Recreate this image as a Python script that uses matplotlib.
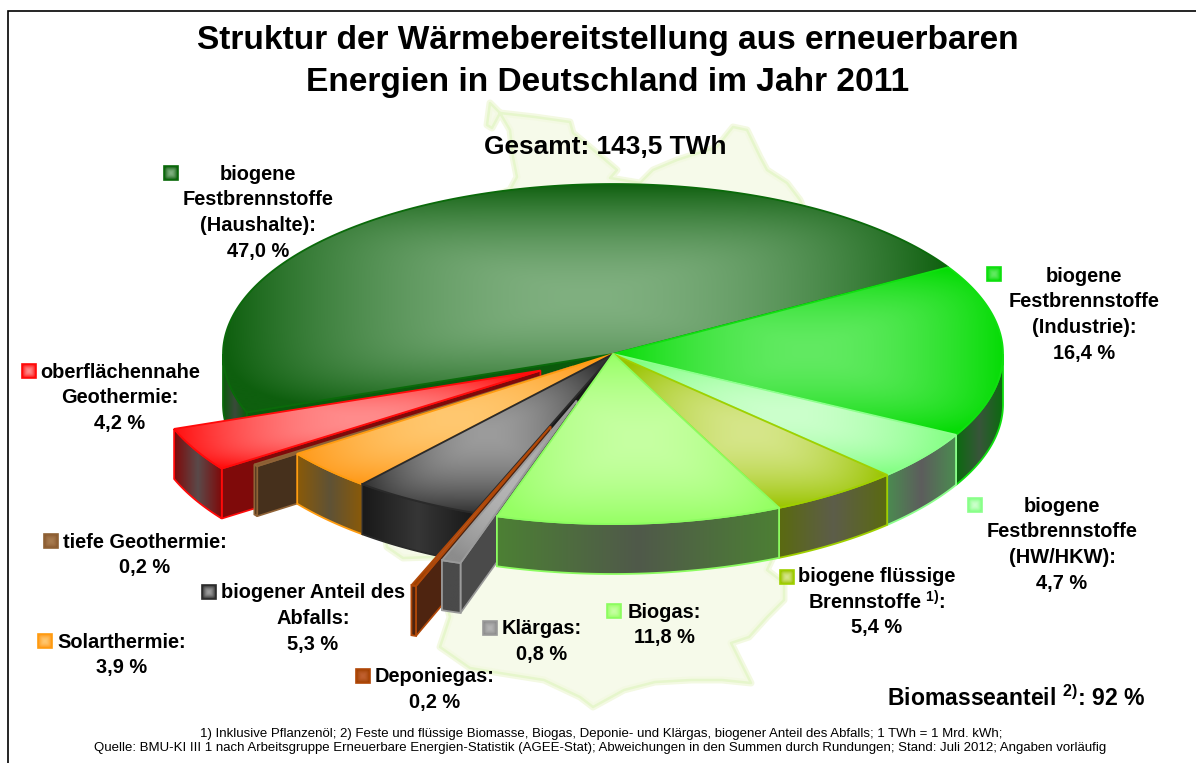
import numpy as np
import matplotlib
matplotlib.use("Agg")
import matplotlib.pyplot as plt
from matplotlib.patches import Polygon, Rectangle
from matplotlib.colors import to_rgb

plt.rcParams['font.family'] = ['Liberation Sans', 'DejaVu Sans']
plt.rcParams['mathtext.fontset'] = 'custom'
plt.rcParams['mathtext.bf'] = 'Liberation Sans:bold'
plt.rcParams['mathtext.rm'] = 'Liberation Sans:bold'

# ---- data ----
names = ['Haushalte', 'Geothermie_o', 'Geothermie_t', 'Solar', 'Abfall',
         'Deponie', 'Klaer', 'Biogas', 'Fluessig', 'HW', 'Industrie']
shares = [47.0, 4.2, 0.2, 3.9, 5.3, 0.2, 0.8, 11.8, 5.4, 4.7, 16.4]
explode = [0, 0.21, 0.126, 0, 0, 0.455, 0.29, 0, 0, 0, 0]
base_col = ['#0e5f0e', '#ff1010', '#8a5a30', '#ff9a1a', '#333333', '#a04000',
            '#8c8c8c', '#96ff64', '#9ac400', '#80ff80', '#06dc06']
light_col = ['#80b080', '#ff8c8c', '#a87c50', '#ffc870', '#9c9c9c', '#c06030',
             '#b4b4b4', '#c6ffa2', '#d6e68a', '#ccffcc', '#62ea62']
edge_col = ['#0a6a0a', '#ff0a0a', '#8f6236', '#ff9c10', '#2a2a2a', '#b04808',
            '#9a9a9a', '#8cfc60', '#a0d000', '#8cff8c', '#10e010']
wall_end = ['#0b5a0b', '#7f0a0a', '#46301c', '#8a5a08', '#191919', '#4e2410',
            '#4a4a4a', '#4c8034', '#5a6a10', '#4b8b50', '#0c6a10']
wall_mid = ['#3a4a3a', '#5a4a4a', '#46301c', '#5f5236', '#363636', '#4e2410',
            '#4a4a4a', '#50594a', '#5d5d4a', '#5d5d5d', '#38553a']

labels = [
    ('biogene\nFestbrennstoffe\n(Haushalte):\n47,0 %', 258, 173, 171, 173, 0),
    ('oberflächennahe\nGeothermie:\n4,2 %', 120, 371, 29, 371, 1),
    ('tiefe Geothermie:\n0,2 %', 145, 541, 51, 541, 2),
    ('Solarthermie:\n3,9 %', 122, 641, 45, 641, 3),
    ('biogener Anteil des\nAbfalls:\n5,3 %', 313, 592, 209, 592, 4),
    ('Deponiegas:\n0,2 %', 435, 676, 363, 676, 5),
    ('Klärgas:\n0,8 %', 542, 628, 490, 628, 6),
    ('Biogas:\n11,8 %', 664, 611, 614, 611, 7),
    ('biogene flüssige\nBrennstoffe $^{\\mathbf{1)}}$:\n5,4 %', 877, 575, 787, 577, 8),
    ('biogene\nFestbrennstoffe\n(HW/HKW):\n4,7 %', 1062, 505, 975, 505, 9),
    ('biogene\nFestbrennstoffe\n(Industrie):\n16,4 %', 1084, 275, 994, 274, 10),
]
title_lines = ['Struktur der Wärmebereitstellung aus erneuerbaren',
               'Energien in Deutschland im Jahr 2011']
total_text = 'Gesamt: 143,5 TWh'
biomass_text = 'Biomasseanteil $^{\\mathbf{2)}}$: 92 %'
foot_lines = ['1) Inklusive Pflanzenöl; 2) Feste und flüssige Biomasse, Biogas, Deponie- und Klärgas, biogener Anteil des Abfalls; 1 TWh = 1 Mrd. kWh;',
              'Quelle: BMU-KI III 1 nach Arbeitsgruppe Erneuerbare Energien-Statistik (AGEE-Stat); Abweichungen in den Summen durch Rundungen; Stand: Juli 2012; Angaben vorläufig']

# decorative background map outline
map_x = [490, 487, 492, 500, 535, 570, 573, 597, 617, 610, 640, 653, 677, 717, 733, 747, 760, 767, 787, 800,
         840, 850, 800, 767, 784, 784, 767, 749, 731, 751, 722, 691, 655, 624, 593, 580, 544, 500, 470, 440,
         450, 433, 403, 387, 380, 400, 480, 510, 517, 513, 510, 500]
map_y = [103, 125, 128, 113, 117, 122, 133, 153, 170, 178, 183, 170, 160, 147, 127, 130, 157, 170, 183, 200,
         300, 400, 500, 570, 583, 600, 617, 637, 643, 683, 680, 680, 682, 690, 707, 697, 680, 673, 668, 647,
         617, 557, 558, 547, 500, 300, 200, 190, 177, 157, 130, 113]

# ---- geometry ----
CX, CY, RX, RY, DEPTH = 613, 354, 390, 170, 50
START = 30.7

fig = plt.figure(figsize=(11.96, 7.63), dpi=100)
ax = fig.add_axes([0, 0, 1, 1])
ax.set_xlim(0, 1196)
ax.set_ylim(763, 0)
ax.axis('off')

ax.plot([7.5, 7.5, 1196], [763, 10.5, 10.5], color='black', lw=1.2, zorder=0,
        solid_joinstyle='miter')

# map
pts = np.column_stack([map_x, map_y])
ax.add_patch(Polygon(pts, closed=True, fc='#f6faea', ec='none', zorder=1))
ax.add_patch(Polygon(pts, closed=True, fill=False, ec='#f3f9e2', lw=5, joinstyle='round', zorder=1))
ax.add_patch(Polygon(pts, closed=True, fill=False, ec='#e6f6cc', lw=1.8, joinstyle='round', zorder=1))

angles = np.array(shares) / sum(shares) * 360
ends = START + np.cumsum(angles)
starts = ends - angles
mids = (starts + ends) / 2


def pt(a, ox=0.0, oy=0.0):
    a = np.radians(a)
    return ox + CX + RX * np.cos(a), oy + CY - RY * np.sin(a)


def gradient_fill(patch, c_light, c_base, z, horizontal=False):
    ax.add_patch(patch)
    v = patch.get_path().transformed(patch.get_patch_transform()).vertices
    x0, x1, y0, y1 = v[:, 0].min(), v[:, 0].max(), v[:, 1].min(), v[:, 1].max()
    w, h = max(x1 - x0, 1), max(y1 - y0, 1)
    ny, nx = max(int(h), 2), max(int(w), 2)
    xx, yy = np.meshgrid(np.linspace(-1, 1, nx), np.linspace(-1, 1, ny))
    if horizontal:
        t = np.abs(xx)
    else:
        t = np.clip((np.abs(xx)**5 + np.abs(yy)**5) ** 0.2, 0, 1) ** 1.8
    t = np.clip(t, 0, 1)[..., None]
    img = np.array(to_rgb(c_light)) * (1 - t) + np.array(to_rgb(c_base)) * t
    im = ax.imshow(img, extent=(x0, x1, y1, y0), aspect='auto', zorder=z,
                   interpolation='bilinear')
    im.set_clip_path(patch)
    return im


z_counter = [2]


def nz():
    z_counter[0] += 1
    return z_counter[0]


def offset(i):
    a = np.radians(mids[i])
    return explode[i] * RX * np.cos(a), -explode[i] * RY * np.sin(a)


def draw_walls(i):
    ox, oy = offset(i)
    ec = edge_col[i]
    # radial wall at the end angle (left half only)
    if 180 < ends[i] < 270:
        x, y = pt(ends[i], ox, oy)
        ax_, ay_ = CX + ox, CY + oy
        p = np.array([[x, y], [ax_, ay_], [ax_, ay_ + DEPTH], [x, y + DEPTH]])
        z = nz()
        ax.add_patch(Polygon(p, closed=True, fc=wall_end[i], ec=ec, lw=1.2, zorder=z))
    # outer curved wall
    a0, a1 = max(starts[i], 180), min(ends[i], 360)
    if a1 > a0:
        aa = np.linspace(a0, a1, 80)
        xs, ys = pt(aa, ox, oy)
        p = np.vstack([np.column_stack([xs, ys]),
                       np.column_stack([xs[::-1], ys[::-1] + DEPTH])])
        z = nz()
        gradient_fill(Polygon(p, closed=True, fc='none', ec='none', zorder=z),
                      wall_mid[i], wall_end[i], z, horizontal=True)
        ax.add_patch(Polygon(p, closed=True, fill=False, ec=ec, lw=1.3, zorder=nz()))


def draw_top(i):
    ox, oy = offset(i)
    aa = np.linspace(starts[i], ends[i], 200)
    xs, ys = pt(aa, ox, oy)
    p = np.vstack([[CX + ox, CY + oy], np.column_stack([xs, ys])])
    z = nz()
    gradient_fill(Polygon(p, closed=True, fc='none', ec='none', zorder=z),
                  light_col[i], base_col[i], z)
    ax.add_patch(Polygon(p, closed=True, fill=False, ec=edge_col[i], lw=1.3,
                         joinstyle='miter', zorder=nz()))


idx = {n: k for k, n in enumerate(names)}
for n in ['Haushalte', 'Industrie', 'HW', 'Fluessig', 'Geothermie_o', 'Geothermie_t', 'Solar', 'Abfall']:
    draw_walls(idx[n])
    draw_top(idx[n])
draw_walls(idx['Deponie'])
draw_top(idx['Deponie'])
draw_walls(idx['Klaer'])
draw_walls(idx['Biogas'])
draw_top(idx['Biogas'])
draw_top(idx['Klaer'])

# ---- text ----
TZ = 500
ax.text(607.5, 40, title_lines[0], ha='center', va='center', fontsize=24.1, fontweight='bold', zorder=TZ)
ax.text(607.5, 82, title_lines[1], ha='center', va='center', fontsize=24.1, fontweight='bold', zorder=TZ)
ax.text(605, 147, total_text, ha='center', va='center', fontsize=18.9, fontweight='bold', zorder=TZ)
ax.text(1016, 698, biomass_text, ha='center', va='center', fontsize=16.6, fontweight='bold', zorder=TZ)
ax.text(601, 733.5, foot_lines[0], ha='center', va='center', fontsize=9.5, zorder=TZ)
ax.text(600, 748.5, foot_lines[1], ha='center', va='center', fontsize=9.5, zorder=TZ)

for txt, x, y, sx, sy, i in labels:
    for k, line in enumerate(txt.split('\n')):
        ax.text(x, y + 1 + k * 25.7, line, ha='center', va='center', fontsize=14.4,
                fontweight='bold', zorder=TZ)
    s = 7
    sq = Rectangle((sx - s, sy - s), 2 * s, 2 * s, fc='none', ec='none', zorder=TZ)
    im = gradient_fill(sq, light_col[i], base_col[i], TZ)
    ax.add_patch(Rectangle((sx - s, sy - s), 2 * s, 2 * s, fill=False, ec=edge_col[i], lw=1.2, zorder=TZ))

ax.set_xlim(0, 1196)
ax.set_ylim(763, 0)
fig.savefig('out.png', dpi=100, facecolor='white')
